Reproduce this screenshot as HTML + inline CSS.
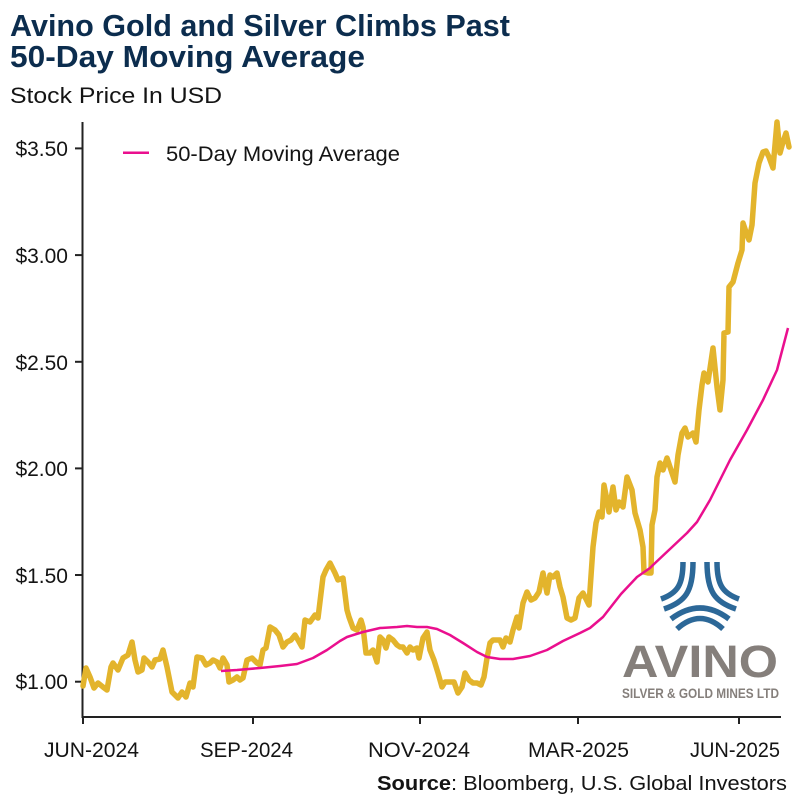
<!DOCTYPE html>
<html>
<head>
<meta charset="utf-8">
<style>
  html,body{margin:0;padding:0;background:#fff;}
  svg{display:block;}
  text{font-family:"Liberation Sans",sans-serif;}
</style>
</head>
<body>
<svg width="800" height="800" viewBox="0 0 800 800" xmlns="http://www.w3.org/2000/svg">
  <rect width="800" height="800" fill="#fff"/>

  <!-- Title -->
  <text x="10" y="36" font-size="31" font-weight="bold" fill="#0c2d4e" textLength="500" lengthAdjust="spacingAndGlyphs">Avino Gold and Silver Climbs Past</text>
  <text x="10" y="67" font-size="31" font-weight="bold" fill="#0c2d4e" textLength="355" lengthAdjust="spacingAndGlyphs">50-Day Moving Average</text>
  <text x="10" y="103" font-size="22" fill="#141414" textLength="212" lengthAdjust="spacingAndGlyphs">Stock Price In USD</text>

  <!-- Axes -->
  <line x1="82.5" y1="122" x2="82.5" y2="718" stroke="#222" stroke-width="2"/>
  <line x1="82" y1="717" x2="781" y2="717" stroke="#222" stroke-width="2"/>

  <!-- Y ticks & labels -->
  <g stroke="#222" stroke-width="2">
    <line x1="75" y1="148.4" x2="83" y2="148.4"/>
    <line x1="75" y1="255.1" x2="83" y2="255.1"/>
    <line x1="75" y1="361.8" x2="83" y2="361.8"/>
    <line x1="75" y1="468.4" x2="83" y2="468.4"/>
    <line x1="75" y1="575" x2="83" y2="575"/>
    <line x1="75" y1="681.7" x2="83" y2="681.7"/>
  </g>
  <g font-size="21" fill="#141414" text-anchor="end">
    <text x="68" y="156">$3.50</text>
    <text x="68" y="263">$3.00</text>
    <text x="68" y="370">$2.50</text>
    <text x="68" y="476">$2.00</text>
    <text x="68" y="583">$1.50</text>
    <text x="68" y="689">$1.00</text>
  </g>

  <!-- X ticks & labels -->
  <g stroke="#222" stroke-width="2">
    <line x1="83" y1="717" x2="83" y2="724"/>
    <line x1="253" y1="717" x2="253" y2="724"/>
    <line x1="420" y1="717" x2="420" y2="724"/>
    <line x1="578" y1="717" x2="578" y2="724"/>
    <line x1="739" y1="717" x2="739" y2="724"/>
  </g>
  <g font-size="21" fill="#141414">
    <text x="44" y="757" textLength="95" lengthAdjust="spacingAndGlyphs">JUN-2024</text>
    <text x="200" y="757" textLength="93" lengthAdjust="spacingAndGlyphs">SEP-2024</text>
    <text x="368" y="757" textLength="102" lengthAdjust="spacingAndGlyphs">NOV-2024</text>
    <text x="528" y="757" textLength="101" lengthAdjust="spacingAndGlyphs">MAR-2025</text>
    <text x="690" y="757" textLength="90" lengthAdjust="spacingAndGlyphs">JUN-2025</text>
  </g>

  <!-- Source -->
  <text x="377" y="790" font-size="20" fill="#141414" textLength="410" lengthAdjust="spacingAndGlyphs"><tspan font-weight="bold">Source</tspan>: Bloomberg, U.S. Global Investors</text>

  <!-- Legend -->
  <line x1="123" y1="152.7" x2="149" y2="152.7" stroke="#ea0f8e" stroke-width="2.5"/>
  <text x="166" y="161" font-size="21" fill="#141414" textLength="234" lengthAdjust="spacingAndGlyphs">50-Day Moving Average</text>

  <!-- Logo -->
  <g fill="none" stroke="#2c6898" stroke-width="5.5" stroke-linecap="butt">
    <path d="M683,562 C683,584 678,593 661,599"/>
    <path d="M693,562 C693,592 685,602 664,609"/>
    <path d="M717,562 C717,584 722,593 739,599"/>
    <path d="M707,562 C707,592 715,602 736,609"/>
    <path d="M671,619 Q700,597 729,619"/>
    <path d="M677,629 Q700,608 723,629"/>
  </g>
  <text x="622" y="677" font-size="45" font-weight="bold" fill="#857f7b" textLength="156" lengthAdjust="spacingAndGlyphs">AVINO</text>
  <text x="622" y="698" font-size="14" font-weight="bold" fill="#857f7b" textLength="157" lengthAdjust="spacingAndGlyphs">SILVER &amp; GOLD MINES LTD</text>

  <!-- Gold price line -->
  <polyline fill="none" stroke="#e3b42c" stroke-width="5.5" stroke-linejoin="round" stroke-linecap="round"
    points="83,686 86,668 90,677 94,688 98,683 103,687 107,690 111,667 113,663 118,670 123,658 128,655 132,642 135,660 138,672 142,670 144,658 148,662 152,667 155,660 160,659 163,650 167,667 172,692 175,695 178,698 182,692 186,697 190,683 193,687 197,657 202,658 206,665 210,663 213,660 217,662 220,668 223,658 227,665 229,682 233,680 237,677 240,680 243,678 247,660 252,658 257,663 260,665 263,650 266,648 270,627 275,630 279,635 283,647 287,642 291,640 295,635 298,640 302,647 305,620 310,622 315,615 318,618 323,577 326,570 330,563 335,573 338,580 343,578 347,610 349,617 353,628 357,630 361,620 363,627 366,653 370,653 373,650 377,662 380,637 383,640 386,648 389,637 393,640 397,645 400,647 403,647 407,653 410,647 413,650 417,648 419,658 423,638 427,632 430,650 434,660 438,673 442,687 445,682 449,682 454,682 458,693 462,687 465,673 469,680 473,683 477,683 481,685 484,677 487,658 490,643 493,640 497,640 500,640 503,647 506,638 510,642 513,630 517,617 519,628 523,603 527,592 531,600 535,598 539,592 543,573 547,593 550,575 553,577 557,573 560,587 563,597 567,618 571,620 575,618 579,598 583,593 589,605 593,547 596,523 599,512 602,517 604,485 607,500 609,512 613,487 616,510 619,502 623,507 627,477 632,490 635,513 640,530 643,547 644,572 648,573 651,573 652,525 655,510 657,477 660,463 663,470 667,458 670,467 675,482 678,455 682,433 685,428 688,437 693,433 696,442 699,410 702,385 704,373 708,382 713,348 717,387 720,410 723,380 724,333 728,332 729,287 733,282 738,263 742,250 743,223 747,235 749,240 752,225 755,183 759,163 763,152 766,151 769,157 773,168 777,122 780,153 783,142 786,133 789,147"/>

  <!-- 50-day MA -->
  <polyline fill="none" stroke="#ea0f8e" stroke-width="2.5" stroke-linejoin="round"
    points="221,671 237,670 260,668 280,666 297,664 313,658 327,650 340,641 347,637 363,632 380,628 397,627 407,626 417,627 427,627 437,629 450,635 463,643 477,652 487,657 500,659 513,659 530,656 547,650 563,641 580,633 590,628 603,617 621,594 637,577 650,568 653,565 670,549 687,533 697,522 710,500 720,480 730,460 747,430 763,400 777,370 788,328"/>
</svg>
</body>
</html>
